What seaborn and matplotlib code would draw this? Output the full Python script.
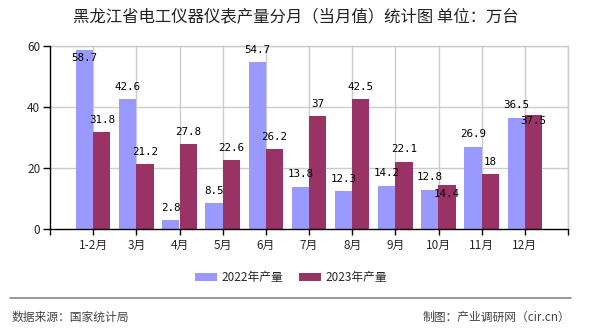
import matplotlib
matplotlib.use("Agg")
import matplotlib.pyplot as plt
import seaborn as sns
import pandas as pd
from matplotlib.lines import Line2D
from matplotlib.patches import Patch

months = ["1-2月", "3月", "4月", "5月", "6月", "7月", "8月", "9月", "10月", "11月", "12月"]
vals_2022 = [58.7, 42.6, 2.8, 8.5, 54.7, 13.8, 12.3, 14.2, 12.8, 26.9, 36.5]
vals_2023 = [31.8, 21.2, 27.8, 22.6, 26.2, 37, 42.5, 22.1, 14.4, 18, 37.5]
series = ["2022年产量", "2023年产量"]
colors = ["#9999FF", "#993366"]
y_ticks = [0, 20, 40, 60]

sns.set_theme(style="white")
plt.rcParams["font.family"] = ["Noto Sans CJK SC", "DejaVu Sans"]

df = pd.DataFrame({
    "month": months * 2,
    "value": vals_2022 + vals_2023,
    "series": [series[0]] * len(months) + [series[1]] * len(months),
})

fig = plt.figure(figsize=(5.9, 3.3), dpi=100)
ax = fig.add_axes([50 / 590, 1 - 229 / 330, 518 / 590, 183 / 330])

sns.barplot(data=df, x="month", y="value", hue="series", palette=colors,
            width=0.8, saturation=1, ax=ax, legend=False, zorder=3, linewidth=0)

ax.set_xlim(-1, len(months))
ax.set_ylim(0, 60)
ax.set_yticks(y_ticks)
ax.set_xlabel("")
ax.set_ylabel("")

# grid
for yv in y_ticks[1:]:
    ax.axhline(yv, color="#cccccc", lw=1, zorder=1)
for i in range(len(months) + 1):
    ax.axvline(i, color="#cccccc", lw=1, zorder=1)

for s in ["top", "right"]:
    ax.spines[s].set_color("#cccccc")
    ax.spines[s].set_linewidth(1)
for s in ["left", "bottom"]:
    ax.spines[s].set_color("black")
    ax.spines[s].set_linewidth(1)
    ax.spines[s].set_zorder(4)

ax.tick_params(axis="x", length=4, width=1, color="black", direction="out",
               labelsize=8.5, pad=3, bottom=True)
ax.tick_params(axis="y", length=5, width=1, color="black", direction="out",
               labelsize=8.5, pad=2, left=True)
ax.set_xticks([-1, len(months)], minor=True)
ax.tick_params(axis="x", which="minor", length=4, width=1, color="black", bottom=True)

# value labels
c22, c23 = ax.containers[0], ax.containers[1]
off = 4.1
for b1, b2, v1, v2 in zip(c22.patches, c23.patches, vals_2022, vals_2023):
    y1 = v1 + off
    if y1 > 59.5:
        y1 = v1 - 2.6
    y2 = v2 + off
    if y2 > 59.5:
        y2 = v2 - 2.6
    if abs(y2 - y1) < 5:
        y2 = y1 - 5.3
    for b, v, y in ((b1, v1, y1), (b2, v2, y2)):
        ax.text(b.get_x() + b.get_width() / 2, y, f"{v:g}", ha="center", va="center",
                fontsize=7.8, family=["DejaVu Sans Mono"], color="black", zorder=5)

# title
fig.text(296 / 590, 1 - 17 / 330, "黑龙江省电工仪器仪表产量分月（当月值）统计图 单位：万台",
         ha="center", va="center", fontsize=11.8, color="#222222")

# legend
handles = [Patch(facecolor=c, edgecolor="none") for c in colors]
fig.legend(handles, series, loc="center", bbox_to_anchor=(291 / 590, 1 - 277.5 / 330),
           ncol=2, frameon=False, fontsize=8.5, handlelength=1.85, handleheight=0.6,
           handletextpad=0.35, columnspacing=1.35, borderaxespad=0, borderpad=0)

# footer
fig.add_artist(Line2D([10 / 590, 571 / 590], [1 - 298 / 330, 1 - 298 / 330],
                      color="#888888", lw=1.2, transform=fig.transFigure))
fig.text(12 / 590, 1 - 317 / 330, "数据来源：国家统计局", ha="left", va="center",
         fontsize=8.5, color="#444444")
fig.text(570 / 590, 1 - 317 / 330, "制图：产业调研网（cir.cn）", ha="right", va="center",
         fontsize=8.5, color="#444444")

fig.savefig("out.png", dpi=100)
